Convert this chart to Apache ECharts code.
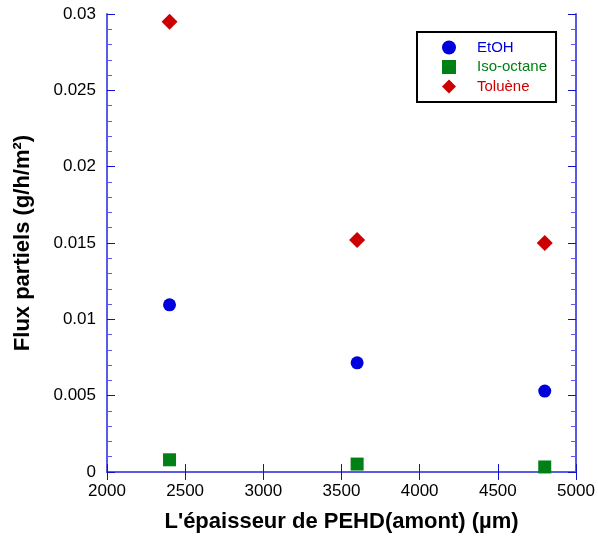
<!DOCTYPE html>
<html>
<head>
<meta charset="utf-8">
<script src="https://cdn.jsdelivr.net/npm/echarts@6/dist/echarts.min.js"></script>
<style>
html,body{margin:0;padding:0;background:#fff;}
#chart{width:598px;height:538px;}
</style>
</head>
<body>
<div id="chart"></div>
<script>
// epaisseur PEHD (um)
var thickness = [2400, 3600, 4800];
// flux partiels (g/h/m2)
var etoh = [0.01095, 0.00715, 0.0053];
var isooctane = [0.0008, 0.00052, 0.00033];
var toluene = [0.0295, 0.0152, 0.0150];

var seriesNames = ['EtOH', 'Iso-octane', 'Toluène'];
var seriesColors = ['#0000dd', '#008015', '#cc0000'];

function pairs(xs, ys){
	var out = [];
	for(var i=0;i<xs.length;i++){
		out.push([xs[i], ys[i]]);
	}
	return out;
}

var font = 'Liberation Sans, Arial, sans-serif';
var lineCol = '#5a5ae6';
var tickCol = '#1010d0';

var chart = echarts.init(document.getElementById('chart'));
var option = {
	animation: false,
	grid: {left: 107, right: 22, top: 14, bottom: 66},
	legend: {
		orient: 'vertical',
		left: 417, top: 32,
		padding: [8, 9, 8, 25],
		itemWidth: 14, itemHeight: 14,
		itemGap: 4.5,
		borderColor: '#000', borderWidth: 2,
		backgroundColor: '#fff',
		textStyle: {fontFamily: font, fontSize: 15, lineHeight: 14, padding: [0, 0, 0, 16]},
		data: [
			{name: seriesNames[0], icon: 'circle', textStyle: {color: seriesColors[0]}},
			{name: seriesNames[1], icon: 'rect', textStyle: {color: seriesColors[1]}},
			{name: seriesNames[2], icon: 'diamond', textStyle: {color: seriesColors[2]}}
		]
	},
	xAxis: [
		{
			type: 'value', min: 2000, max: 5000, interval: 500,
			name: "L'épaisseur de PEHD(amont) (µm)",
			nameLocation: 'middle', nameGap: 39,
			nameTextStyle: {fontFamily: font, fontSize: 22, fontWeight: 'bold', color: '#000'},
			axisLine: {lineStyle: {color: lineCol, width: 2}},
			axisTick: {inside: true, length: 8, lineStyle: {color: tickCol}},
			axisLabel: {margin: 11, fontFamily: font, fontSize: 17, color: '#000',
				formatter: function(v){ return String(v); }},
			splitLine: {show: false}
		},
		{
			type: 'value', position: 'top', min: 2000, max: 5000, interval: 500,
			axisLine: {show: true, lineStyle: {color: lineCol, width: 2}},
			axisTick: {inside: true, length: 8, lineStyle: {color: tickCol}},
			axisLabel: {show: false},
			splitLine: {show: false}
		}
	],
	yAxis: [
		{
			type: 'value', min: 0, max: 0.03, interval: 0.005,
			name: 'Flux partiels (g/h/m²)',
			nameLocation: 'middle', nameGap: 73,
			nameTextStyle: {fontFamily: font, fontSize: 22, fontWeight: 'bold', color: '#000'},
			axisLine: {show: true, lineStyle: {color: lineCol, width: 2}},
			axisTick: {inside: true, length: 8, lineStyle: {color: tickCol}},
			minorTick: {show: true, splitNumber: 5, length: 5, lineStyle: {color: lineCol}},
			axisLabel: {margin: 11, fontFamily: font, fontSize: 17, color: '#000',
				formatter: function(v){ return v === 0 ? '0' : String(+v.toFixed(3)); }},
			splitLine: {show: false}
		},
		{
			type: 'value', position: 'right', min: 0, max: 0.03, interval: 0.005,
			axisLine: {show: true, lineStyle: {color: lineCol, width: 2}},
			axisTick: {show: true, inside: true, length: 8, lineStyle: {color: tickCol}},
			minorTick: {show: true, splitNumber: 5, length: 5, lineStyle: {color: lineCol}},
			axisLabel: {show: false},
			splitLine: {show: false}
		}
	],
	series: [
		{name: seriesNames[0], type: 'scatter', symbol: 'circle', symbolSize: 13,
			itemStyle: {color: seriesColors[0], opacity: 1}, data: pairs(thickness, etoh)},
		{name: seriesNames[1], type: 'scatter', symbol: 'rect', symbolSize: 13,
			itemStyle: {color: seriesColors[1], opacity: 1}, data: pairs(thickness, isooctane)},
		{name: seriesNames[2], type: 'scatter', symbol: 'diamond', symbolSize: 16,
			itemStyle: {color: seriesColors[2], opacity: 1}, data: pairs(thickness, toluene)}
	]
};
chart.setOption(option);
</script>
</body>
</html>
